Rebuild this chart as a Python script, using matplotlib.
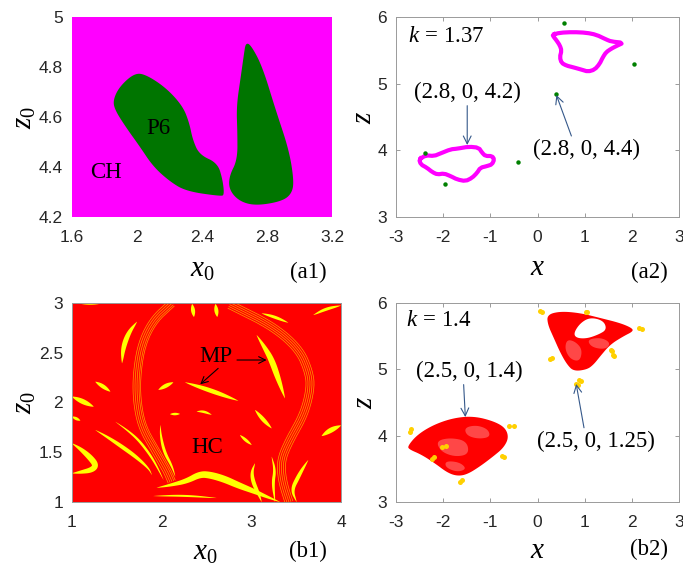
import numpy as np
import matplotlib
matplotlib.use("Agg")
import matplotlib.pyplot as plt
from matplotlib.patches import Polygon

plt.rcParams["font.family"] = ["Liberation Sans", "DejaVu Sans"]
plt.rcParams["mathtext.fontset"] = "custom"
plt.rcParams["mathtext.rm"] = "Liberation Serif"
plt.rcParams["mathtext.it"] = "Liberation Serif:italic"
plt.rcParams["mathtext.bf"] = "Liberation Serif:bold"
SERIF = ["Liberation Serif", "DejaVu Serif"]

# ---------------- data ----------------
# (a1) basin of attraction in the (x0, z0) plane: P6 regions on a CH background
a1_xticks = [1.6, 2.0, 2.4, 2.8, 3.2]
a1_xlabels = ["1.6", "2", "2.4", "2.8", "3.2"]
a1_yticks = [4.2, 4.4, 4.6, 4.8, 5.0]
a1_ylabels = ["4.2", "4.4", "4.6", "4.8", "5"]
p6_left_x = [1.853, 1.894, 1.986, 2.057, 2.180, 2.282, 2.322, 2.343, 2.384, 2.496,
             2.527, 2.537, 2.516, 2.302, 2.200, 2.098, 2.016, 1.935, 1.863]
p6_left_z = [4.669, 4.723, 4.776, 4.769, 4.716, 4.643, 4.576, 4.509, 4.449, 4.416,
             4.349, 4.289, 4.283, 4.303, 4.343, 4.403, 4.483, 4.556, 4.629]
p6_right_x = [2.669, 2.700, 2.771, 2.853, 2.935, 2.965, 2.955, 2.894, 2.731, 2.629,
              2.567, 2.567, 2.618, 2.618, 2.612, 2.639, 2.659]
p6_right_z = [4.896, 4.889, 4.803, 4.629, 4.469, 4.349, 4.296, 4.263, 4.245, 4.263,
              4.309, 4.363, 4.429, 4.536, 4.643, 4.763, 4.856]

# (a2) phase portrait at k = 1.37: chaotic loops and period-6 orbit
loop_low_x = [-2.509, -2.368, -2.193, -2.053, -1.842, -1.702, -1.456, -1.246, -1.175,
              -1.105, -0.965, -0.916, -0.965, -1.070, -1.211, -1.281, -1.386, -1.526,
              -1.702, -1.842, -1.982, -2.123, -2.228, -2.347, -2.474]
loop_low_z = [3.864, 3.925, 3.915, 3.955, 4.015, 4.025, 4.055, 4.040, 3.965, 3.915,
              3.915, 3.864, 3.789, 3.764, 3.739, 3.663, 3.588, 3.538, 3.563, 3.613,
              3.653, 3.638, 3.673, 3.739, 3.789]
loop_up_x = [0.319, 0.474, 0.754, 1.035, 1.246, 1.456, 1.561, 1.821, 1.667, 1.561,
             1.456, 1.386, 1.316, 1.211, 1.070, 0.930, 0.754, 0.614, 0.509, 0.474,
             0.509, 0.474, 0.404, 0.347]
loop_up_z = [5.734, 5.764, 5.774, 5.764, 5.734, 5.663, 5.633, 5.613, 5.563, 5.523,
             5.472, 5.397, 5.296, 5.211, 5.181, 5.211, 5.246, 5.271, 5.312, 5.397,
             5.497, 5.573, 5.648, 5.698]
p6_orbit_x = [0.558, 2.053, 0.389, -2.39, -1.96, -0.42]
p6_orbit_z = [5.915, 5.296, 4.844, 3.955, 3.497, 3.824]

# (b1) basin at k = 1.4: MP streaks on an HC background
b1_xticks = [1, 2, 3, 4]
b1_xlabels = ["1", "2", "3", "4"]
b1_yticks = [1.0, 1.5, 2.0, 2.5, 3.0]
b1_ylabels = ["1", "1.5", "2", "2.5", "3"]
mp_streaks = [
    [(1.558, 2.394), (1.57, 2.55), (1.63, 2.70), (1.725, 2.812)],
    [(1.26, 2.209), (1.35, 2.16), (1.428, 2.109)],
    [(1.0, 2.059), (1.12, 2.01), (1.242, 1.958)],
    [(1.0, 1.858), (1.093, 1.818)],
    [(1.26, 1.724), (1.40, 1.65), (1.558, 1.556), (1.72, 1.45), (1.855, 1.338), (1.892, 1.271)],
    [(1.0, 1.59), (1.10, 1.53), (1.20, 1.45), (1.27, 1.37), (1.223, 1.322), (1.10, 1.30), (1.0, 1.288)],
    [(1.985, 1.774), (1.99, 1.66), (2.03, 1.50), (2.115, 1.36), (2.152, 1.255)],
    [(1.963, 2.127), (2.05, 2.17), (2.13, 2.203)],
    [(2.26, 2.203), (2.55, 2.12), (2.855, 2.017)],
    [(2.093, 1.883), (2.204, 1.885)],
    [(2.39, 1.91), (2.47, 1.91), (2.558, 1.877)],
    [(2.34, 2.99), (2.36, 2.86)],
    [(2.60, 2.99), (2.62, 2.86)],
    [(1.944, 1.143), (2.10, 1.17), (2.279, 1.21), (2.43, 1.28), (2.55, 1.27), (2.70, 1.23),
     (2.85, 1.17), (3.022, 1.11), (3.18, 1.05), (3.32, 1.0)],
    [(1.907, 1.06), (2.25, 1.065), (2.613, 1.04)],
    [(3.115, 2.896), (3.26, 2.86), (3.412, 2.802)],
    [(3.691, 2.879), (3.83, 2.94), (4.0, 2.975)],
    [(3.059, 2.678), (3.15, 2.55), (3.227, 2.427), (3.30, 2.24), (3.375, 2.042)],
    [(3.041, 1.925), (3.13, 1.83), (3.227, 1.74)],
    [(2.873, 1.673), (2.94, 1.62), (3.004, 1.573)],
    [(3.784, 1.663), (3.88, 1.72), (4.0, 1.77)],
    [(3.041, 1.389), (3.004, 1.30), (3.02, 1.2), (3.078, 1.087), (3.115, 1.0)],
    [(3.227, 1.456), (3.264, 1.32), (3.24, 1.19), (3.264, 1.0)],
    [(3.635, 1.422), (3.57, 1.33), (3.524, 1.255), (3.45, 1.121), (3.505, 1.0)],
    [(1.08, 2.995), (1.3, 2.99)],
    [(1.483, 1.807), (1.62, 1.72), (1.743, 1.623), (1.85, 1.50), (1.929, 1.389), (2.022, 1.221)],
]
mp_widths = [5, 4, 5, 3, 4, 6, 3, 4, 4.5, 2.5, 2.5, 4, 4, 7, 2, 3, 3, 6, 4, 3, 5, 4, 3, 4, 2, 2.5]
left_bundle = [(2.115, 2.997), (1.911, 2.829), (1.781, 2.595), (1.725, 2.293), (1.725, 2.025),
               (1.781, 1.757), (1.929, 1.523), (2.059, 1.322), (2.115, 1.204)]
right_bundle = [(2.762, 2.993), (3.245, 2.777), (3.543, 2.543), (3.654, 2.31), (3.673, 2.143),
                (3.599, 1.877), (3.431, 1.61), (3.338, 1.41), (3.357, 1.21), (3.431, 1.0)]

# (b2) phase portrait at k = 1.4: chaotic attractor and MP orbit
cloud_low_x = [-2.754, -2.544, -2.19, -1.77, -1.35, -0.93, -0.68, -0.61, -0.72, -0.93,
               -1.21, -1.49, -1.70, -1.91, -2.19, -2.47, -2.72]
cloud_low_z = [3.843, 4.018, 4.169, 4.269, 4.294, 4.219, 4.118, 3.968, 3.817, 3.692,
               3.541, 3.416, 3.391, 3.441, 3.591, 3.717, 3.793]
cloud_up_x = [0.204, 0.486, 0.908, 1.330, 1.75, 2.0, 2.03, 1.82, 1.54, 1.33, 1.19, 1.05,
              0.767, 0.627, 0.486, 0.345, 0.218]
cloud_up_z = [5.824, 5.875, 5.849, 5.774, 5.699, 5.624, 5.573, 5.498, 5.373, 5.197, 5.072,
              4.997, 4.971, 5.072, 5.247, 5.473, 5.674]
hole_x = [0.767, 0.908, 1.119, 1.40, 1.47, 1.29, 1.04, 0.82]
hole_z = [5.548, 5.699, 5.784, 5.734, 5.599, 5.523, 5.463, 5.473]
# sparsely visited parts of the attractor
sparse_regions = [
    ([-1.55, -1.30, -1.05, -1.00, -1.25, -1.50], [4.12, 4.16, 4.10, 3.98, 3.95, 4.00]),
    ([-2.15, -1.85, -1.50, -1.45, -1.75, -2.05], [3.92, 3.97, 3.92, 3.72, 3.68, 3.76]),
    ([-1.95, -1.65, -1.50, -1.70, -1.95], [3.62, 3.60, 3.50, 3.45, 3.52]),
    ([0.62, 0.80, 0.95, 0.90, 0.70, 0.58], [5.45, 5.42, 5.30, 5.12, 5.15, 5.30]),
    ([1.05, 1.35, 1.55, 1.45, 1.15], [5.45, 5.48, 5.40, 5.30, 5.33]),
]
mp_orbit_x = [0.06, 0.10, 1.02, 1.06, 2.16, 2.22, 1.55, 1.58, 1.60, 1.63, 0.26, 0.30,
              0.88, 0.92, 0.82, 0.86, -2.71, -2.69, -0.60, -0.50, -0.75, -0.72,
              -2.02, -1.95, -2.24, -2.19, -1.65, -1.61]
mp_orbit_z = [5.885, 5.865, 5.870, 5.860, 5.620, 5.610, 5.290, 5.270, 5.220, 5.200, 5.150,
              5.175, 4.845, 4.825, 4.780, 4.770, 4.060, 4.100, 4.150, 4.140, 3.700, 3.680,
              3.830, 3.850, 3.650, 3.680, 3.300, 3.330]

xy_ticks = [-3, -2, -1, 0, 1, 2, 3]
xy_labels = ["-3", "-2", "-1", "0", "1", "2", "3"]
z_ticks = [3, 4, 5, 6]
z_labels = ["3", "4", "5", "6"]

# ---------------- helpers ----------------
W, H = 683, 565


def chaikin(pts, n, closed):
    p = np.asarray(pts, float)
    for _ in range(n):
        q = np.roll(p, -1, axis=0) if closed else p[1:]
        a = p if closed else p[:-1]
        new = np.empty((2 * len(a), 2))
        new[0::2] = 0.75 * a + 0.25 * q
        new[1::2] = 0.25 * a + 0.75 * q
        p = new if closed else np.vstack([p[:1], new, p[-1:]])
    return p


def normals(d):
    tang = np.gradient(d, axis=0)
    tang /= np.hypot(tang[:, 0], tang[:, 1])[:, None]
    return np.column_stack([-tang[:, 1], tang[:, 0]])


def streak(ax, pts, width_px, color):
    c = chaikin(pts, 4, closed=False)
    d = ax.transData.transform(c)
    seg = np.diff(d, axis=0)
    s = np.concatenate([[0], np.cumsum(np.hypot(seg[:, 0], seg[:, 1]))])
    t = s / s[-1]
    nrm = normals(d)
    hw = 0.5 * width_px * np.sin(np.pi * t) ** 0.8
    outline = np.vstack([d + nrm * hw[:, None], (d - nrm * hw[:, None])[::-1]])
    poly = ax.transData.inverted().transform(outline)
    ax.add_patch(Polygon(poly, closed=True, facecolor=color, edgecolor="none"))


def bundle(ax, pts, offsets, color, lw, alpha):
    c = chaikin(pts, 4, closed=False)
    d = ax.transData.transform(c)
    nrm = normals(d)
    inv = ax.transData.inverted()
    for o in offsets:
        p = inv.transform(d + nrm * o)
        ax.plot(p[:, 0], p[:, 1], color=color, lw=lw, alpha=alpha, solid_capstyle="butt")


def blob(ax, xs, ys, color, n=4, **kw):
    p = chaikin(np.column_stack([xs, ys]), n, closed=True)
    kw.setdefault("edgecolor", "none")
    ax.add_patch(Polygon(p, closed=True, facecolor=color, **kw))


def add_axes(l, t, r, b):
    return fig.add_axes([l / W, 1 - b / H, (r - l) / W, (b - t) / H])


def ftext(x, y, s, **kw):
    fig.text(x / W, 1 - y / H, s, **kw)


def style_frame(ax, xt, xl, yt, yl, show_ticks):
    ax.set_xticks(xt, xl)
    ax.set_yticks(yt, yl)
    ax.tick_params(direction="in", labelsize=12.5,
                   length=3 if show_ticks else 0, width=0.6, colors="#8c8c8c",
                   top=show_ticks, right=show_ticks)
    ax.tick_params(axis="x", pad=9.5, labelcolor="#262626")
    ax.tick_params(axis="y", pad=6.5, labelcolor="#262626")
    for sp in ax.spines.values():
        sp.set_color("#9a9a9a")
        sp.set_linewidth(0.7)


fig = plt.figure(figsize=(W / 100, H / 100), dpi=100)
fig.patch.set_facecolor("white")

# ---------------- (a1) ----------------
ax = add_axes(72, 17, 332, 217)
ax.set_xlim(1.6, 3.2)
ax.set_ylim(4.2, 5.0)
ax.set_facecolor("#ff00ff")
blob(ax, p6_left_x, p6_left_z, "#007500")
blob(ax, p6_right_x, p6_right_z, "#007500")
style_frame(ax, a1_xticks, a1_xlabels, a1_yticks, a1_ylabels, False)
for sp in ax.spines.values():
    sp.set_visible(False)
ax.text(2.13, 4.556, "P6", fontsize=16.5, family=SERIF, ha="center", va="center")
ax.text(1.812, 4.376, "CH", fontsize=16.5, family=SERIF, ha="center", va="center")

# ---------------- (a2) ----------------
ax = add_axes(396, 17, 679, 217)
ax.set_xlim(-3, 3)
ax.set_ylim(3, 6)
for lx, lz in [(loop_low_x, loop_low_z), (loop_up_x, loop_up_z)]:
    p = chaikin(np.column_stack([lx, lz]), 1, closed=True)
    p = np.vstack([p, p[:1]])
    ax.plot(p[:, 0], p[:, 1], color="#ff00ff", lw=3.0, solid_joinstyle="round")
ax.plot(p6_orbit_x, p6_orbit_z, "o", ms=3.2, color="#008000", mec="none")
style_frame(ax, xy_ticks, xy_labels, z_ticks, z_labels, True)
ax.text(-2.74, 5.72, r"$k\,=\,1.37$", fontsize=16.5, ha="left", va="center")
arr = dict(arrowstyle="->", color="#35588a", lw=0.8, shrinkA=0, shrinkB=0,
           mutation_scale=14)
ax.annotate("(2.8, 0, 4.2)", xy=(-1.49, 4.08), xytext=(-1.49, 4.87),
            fontsize=16.5, family=SERIF, ha="center", va="center",
            arrowprops=dict(arr, relpos=(0.5, 0.0)))
ax.annotate("(2.8, 0, 4.4)", xy=(0.40, 4.83), xytext=(1.035, 4.015),
            fontsize=16.5, family=SERIF, ha="center", va="center",
            arrowprops=dict(arr, relpos=(0.37, 1.0)))

# ---------------- (b1) ----------------
ax = add_axes(72, 303, 341, 502)
ax.set_xlim(1, 4)
ax.set_ylim(1, 3)
ax.set_facecolor("#ff0000")
bundle(ax, left_bundle, [-4.0, -2.0, 0.0, 2.0, 3.6], "#ffb000", 0.5, 0.9)
bundle(ax, right_bundle, [-5.0, -3.0, -1.0, 1.0, 3.0], "#ffb000", 0.5, 0.9)
for pts, w in zip(mp_streaks, mp_widths):
    streak(ax, pts, w, "#ffff00")
style_frame(ax, b1_xticks, b1_xlabels, b1_yticks, b1_ylabels, False)
ax.text(2.606, 2.46, "MP", fontsize=16.5, family=SERIF, ha="center", va="center")
ax.text(2.502, 1.543, "HC", fontsize=16.5, family=SERIF, ha="center", va="center")
barr = dict(arrowstyle="->", color="black", lw=0.8, shrinkA=0, shrinkB=0, mutation_scale=12)
ax.annotate("", xy=(3.17, 2.427), xytext=(2.84, 2.427), arrowprops=barr)
ax.annotate("", xy=(2.43, 2.183), xytext=(2.63, 2.343), arrowprops=barr)

# ---------------- (b2) ----------------
ax = add_axes(396, 303, 679, 502)
ax.set_xlim(-3, 3)
ax.set_ylim(3, 6)
blob(ax, cloud_low_x, cloud_low_z, "#ff0000", n=3)
blob(ax, cloud_up_x, cloud_up_z, "#ff0000", n=3)
for sx, sz in sparse_regions:
    blob(ax, sx, sz, "#ff5a5a", n=3, alpha=0.8)
blob(ax, hole_x, hole_z, "white", n=3)
ax.plot(mp_orbit_x, mp_orbit_z, "o", ms=3.6, color="#ffd000", mec="none")
style_frame(ax, xy_ticks, xy_labels, z_ticks, z_labels, True)
ax.text(-2.78, 5.75, r"$k\,=\,1.4$", fontsize=16.5, ha="left", va="center")
ax.annotate("(2.5, 0, 1.4)", xy=(-1.53, 4.28), xytext=(-1.456, 4.971),
            fontsize=16.5, family=SERIF, ha="center", va="center",
            arrowprops=dict(arr, relpos=(0.45, 0.0)))
ax.annotate("(2.5, 0, 1.25)", xy=(0.82, 4.78), xytext=(1.246, 3.918),
            fontsize=16.5, family=SERIF, ha="center", va="center",
            arrowprops=dict(arr, relpos=(0.40, 1.0)))

# ---------------- axis titles and panel tags ----------------
lab = dict(fontsize=21, ha="center")
ftext(202, 277, r"$x_0$", va="baseline", **lab)
ftext(538, 275, r"$x$", va="baseline", **lab)
ftext(205, 560, r"$x_0$", va="baseline", **lab)
ftext(538, 558, r"$x$", va="baseline", **lab)
ftext(24, 117, r"$z_0$", va="center", rotation=90, **lab)
ftext(363, 117, r"$z$", va="center", rotation=90, **lab)
ftext(24, 402, r"$z_0$", va="center", rotation=90, **lab)
ftext(364, 402, r"$z$", va="center", rotation=90, **lab)
tag = dict(fontsize=16.5, family=SERIF, ha="center", va="baseline")
ftext(308, 278, "(a1)", **tag)
ftext(649, 278, "(a2)", **tag)
ftext(308, 557, "(b1)", **tag)
ftext(649, 555, "(b2)", **tag)

fig.savefig("out.png", dpi=100)
